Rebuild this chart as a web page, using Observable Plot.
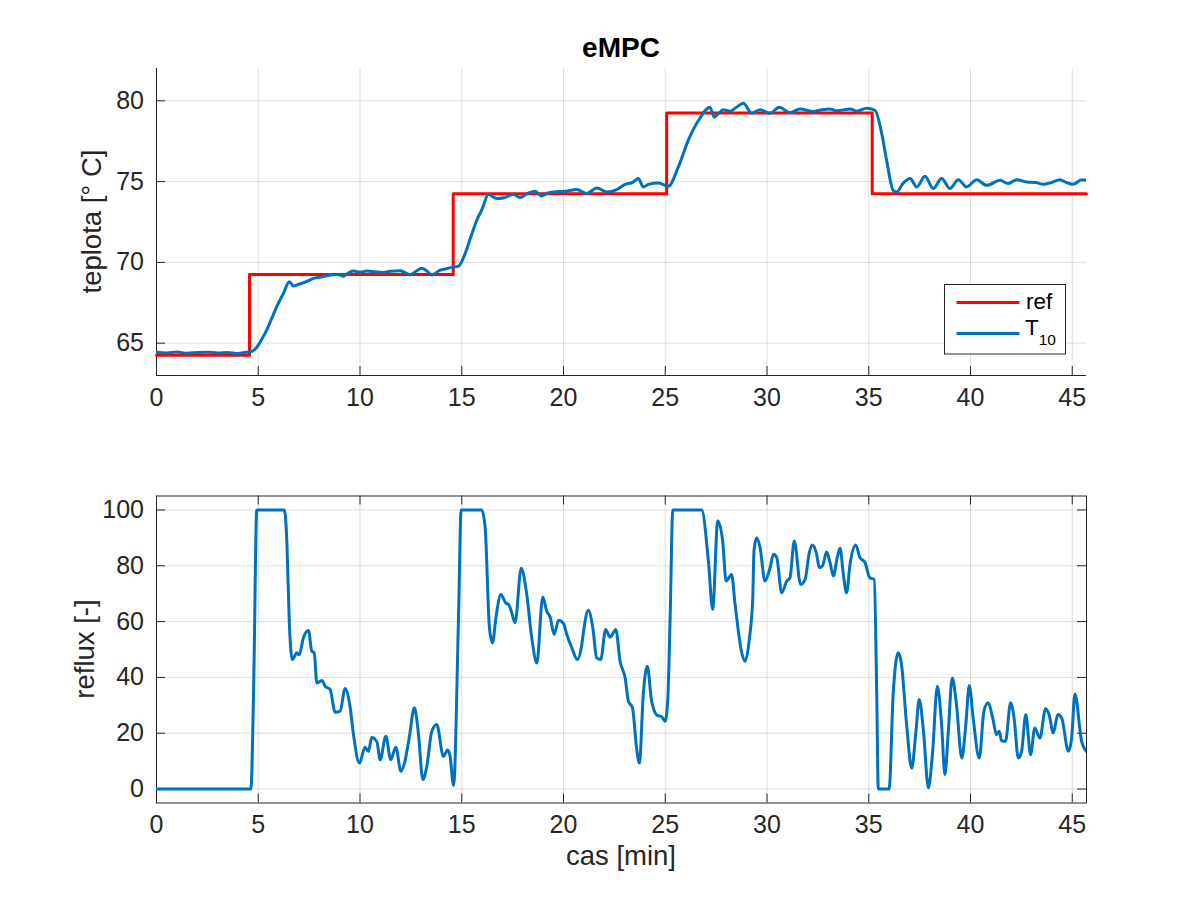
<!DOCTYPE html>
<html>
<head>
<meta charset="utf-8">
<script src="https://cdn.jsdelivr.net/npm/d3@7"></script>
<script src="https://cdn.jsdelivr.net/npm/@observablehq/plot@0.6"></script>
<style>
  body { margin: 0; background: #fff; }
  #wrap { position: relative; width: 1200px; height: 900px; background: #fff; overflow: hidden; }
  #wrap > svg, #wrap > figure { position: absolute; left: 0; margin: 0; }
  text { font-family: "Liberation Sans", Arial, Helvetica, sans-serif; }
</style>
</head>
<body>
<div id="wrap"></div>
<script>
// ---------------- data ----------------
const titleText = "eMPC";
const yLabelTop = "teplota [° C]";
const yLabelBottom = "reflux [-]";
const xLabelText = "cas [min]";
const legendLabels = ["ref", "T", "10"]; // "T" with subscript "10"

const xTicks = [0, 5, 10, 15, 20, 25, 30, 35, 40, 45];
const yTicksTop = [65, 70, 75, 80];
const yTicksBottom = [0, 20, 40, 60, 80, 100];
const xDomain = [0, 45.7];
const yDomainTop = [63, 82];
const yDomainBottom = [-5, 105];

// reference (step) series
const refTime  = [0, 4.57, 14.58, 25.07, 35.17, 45.7];
const refValue = [64.25, 69.25, 74.25, 79.25, 74.25, 74.25];

// measured temperature T10
const tTime = [0,0.5,1.0,1.5,2.0,2.5,3.0,3.5,4.0,4.4,4.7,4.93,5.2,5.42,5.65,5.91,6.24,6.53,6.73,7.0,7.22,7.5,7.71,8.1,8.53,8.9,9.19,9.45,9.68,10.0,10.34,10.7,11.15,11.5,11.97,12.2,12.46,12.75,13.04,13.3,13.53,13.94,14.2,14.51,14.84,15.17,15.45,15.74,16.0,16.31,16.72,17.1,17.3,17.54,17.87,18.2,18.6,18.93,19.2,19.5,20.1,20.65,21.14,21.64,22.13,22.62,23.03,23.4,23.68,23.92,24.17,24.66,25.15,25.64,26.13,26.63,27.2,27.4,27.6,27.85,28.18,28.5,28.84,29.25,29.66,30.15,30.6,31.13,31.62,32.28,32.7,33.1,33.4,33.75,34.1,34.41,34.9,35.31,35.64,35.88,36.2,36.37,36.7,37.03,37.36,37.76,38.17,38.58,38.99,39.4,39.81,40.3,40.79,41.45,41.86,42.27,42.76,43.2,43.57,44.0,44.39,44.7,45.05,45.46,45.7];
const tValue = [64.44,64.40,64.45,64.38,64.42,64.44,64.40,64.43,64.36,64.44,64.50,64.75,65.3,65.82,66.5,67.26,68.09,68.80,68.54,68.65,68.74,68.88,69.01,69.10,69.22,69.25,69.15,69.35,69.46,69.40,69.46,69.42,69.38,69.45,69.48,69.38,69.22,69.45,69.63,69.45,69.22,69.52,69.60,69.69,69.77,70.56,71.6,72.61,73.3,74.20,73.95,74.0,74.12,74.20,74.01,74.25,74.40,74.11,74.28,74.36,74.40,74.51,74.26,74.61,74.36,74.51,74.83,74.95,75.19,74.67,74.83,74.91,74.71,75.90,77.55,78.78,79.60,78.99,79.2,79.44,79.36,79.6,79.85,79.23,79.44,79.23,79.6,79.26,79.5,79.34,79.45,79.5,79.38,79.44,79.5,79.36,79.54,79.40,77.96,76.31,74.46,74.36,74.91,75.19,74.67,75.33,74.57,75.19,74.57,75.12,74.67,75.12,74.77,75.08,74.88,75.12,74.98,74.95,74.83,74.95,75.12,74.95,74.83,75.12,75.08];

// reflux
const rTime = [0,4.64,4.77,4.93,6.29,6.41,6.53,6.68,6.9,7.01,7.22,7.47,7.63,7.75,7.88,8.13,8.29,8.53,8.78,9.02,9.27,9.52,9.68,9.97,10.25,10.41,10.58,10.83,10.99,11.27,11.51,11.76,12.01,12.21,12.43,12.67,12.86,13.09,13.28,13.53,13.77,14.1,14.31,14.42,14.6,14.84,14.97,15.98,16.15,16.36,16.51,16.69,16.92,17.16,17.32,17.44,17.62,17.92,18.17,18.44,18.69,18.98,19.18,19.34,19.54,19.76,20.0,20.16,20.41,20.68,20.9,21.01,21.22,21.44,21.63,21.83,22.07,22.29,22.57,22.78,23.03,23.19,23.39,23.6,23.73,23.92,24.12,24.33,24.61,24.82,24.99,25.12,25.24,25.37,26.79,27.12,27.33,27.58,27.82,27.99,28.26,28.43,28.76,28.92,29.14,29.3,29.36,29.49,29.66,29.9,30.15,30.32,30.48,30.72,30.97,31.13,31.34,31.65,31.87,32.08,32.23,32.44,32.57,32.73,32.93,33.1,33.26,33.45,33.59,33.75,33.91,34.08,34.36,34.57,34.82,35.05,35.27,35.39,35.47,36.0,36.2,36.45,36.61,36.86,37.11,37.32,37.48,37.69,37.93,38.14,38.37,38.58,38.74,38.91,39.1,39.31,39.57,39.77,39.94,40.13,40.43,40.66,40.87,41.09,41.28,41.41,41.53,41.72,41.97,42.14,42.35,42.51,42.72,42.95,43.16,43.41,43.69,43.86,44.07,44.29,44.48,44.81,44.97,45.13,45.46,45.7];
const rValue = [0,0,35,100,100,87.7,59,46.4,48.8,48,54.2,56.8,49.4,48.8,38,38.9,36.8,35.7,27.5,27.9,36,29.1,19.5,9.3,15,13.5,18.5,16.9,10.5,18.9,10.5,15,6.4,10,18.9,29.1,20.7,3.4,8,20.7,23.1,11.7,14,12,1.3,61.4,100,100,93.7,57.8,52.4,62,69.7,66.7,66,63.6,59.6,79.1,71,54.2,45.2,68.8,63.6,61.7,55.4,60.5,59.3,55.4,50.6,46.4,51.8,57.8,64.1,57.8,47,46.4,57.2,54.4,57.2,45.8,39.8,31.5,29.1,14.1,9.3,33.9,44,31.5,26.4,26,24.3,31.5,61.4,100,100,81.7,64.4,96,89,74.5,76.9,66.3,48.8,45.8,54.2,68.5,85.3,90,86.5,74.5,79.3,84.1,82.9,70.3,74.5,75.7,88.9,73.3,75,84.7,87.4,84.1,79.3,80,84.9,81.1,76.3,82.9,86.3,77,70.3,80.5,87.4,82.9,81.1,75.7,75.1,35,0,0,33.9,48.8,44.6,23.1,7.5,20.7,32.1,20.7,0.4,13.5,36.8,23.1,5.2,20.7,39.8,30.3,11.1,23.1,37.1,25.5,11.1,27.9,30.9,25.5,19.5,20.7,17.3,17.1,30.9,25.5,11.1,13.5,26.7,12.3,21.9,18.3,28.8,26.7,20.1,26.7,25.5,13.5,18.3,34.1,17.1,13.5];

// ---------------- tables ----------------
const refData = refTime.map((t, i) => ({t, v: refValue[i]}));
const tData = tTime.map((t, i) => ({t, v: tValue[i]}));
const rData = rTime.map((t, i) => ({t, v: rValue[i]}));

// ---------------- style ----------------
const AX = "#262626";
const RED = "#ff0000";
const BLUE = "#0072bd";
const FONT = '"Liberation Sans", Arial, Helvetica, sans-serif';
const W = 1200, ML = 156, MR = 114;
const TICK = 9;
const plotW = W - ML - MR;

function gridAndTicks(yTicks, plotH, boxed) {
  const g = { stroke: AX, strokeOpacity: 0.15, strokeWidth: 1 };
  const marks = [
    Plot.gridX(xTicks, g),
    Plot.gridY(yTicks, g),
    Plot.tickX(xTicks, { x: d => d, insetTop: plotH - TICK, stroke: AX }),
    Plot.tickY(yTicks, { y: d => d, insetRight: plotW - TICK, stroke: AX })
  ];
  if (boxed) {
    marks.push(
      Plot.tickX(xTicks, { x: d => d, insetBottom: plotH - TICK, stroke: AX }),
      Plot.tickY(yTicks, { y: d => d, insetLeft: plotW - TICK, stroke: AX })
    );
  }
  marks.push(
    Plot.axisX(xTicks, { tickSize: 0, tickPadding: 12.5, label: null, fill: AX }),
    Plot.axisY(yTicks, { tickSize: 0, tickPadding: 12.5, label: null, fill: AX })
  );
  return marks;
}

// ---------------- top panel ----------------
const topMT = 68, topMB = 75, topH = 450;
const topPlotH = topH - topMT - topMB;
const chartTop = Plot.plot({
  width: W, height: topH,
  marginLeft: ML, marginRight: MR, marginTop: topMT, marginBottom: topMB,
  style: { fontFamily: FONT, fontSize: "25px", color: AX, background: "transparent", overflow: "visible" },
  x: { domain: xDomain },
  y: { domain: yDomainTop },
  marks: [
    ...gridAndTicks(yTicksTop, topPlotH, false),
    Plot.ruleX([xDomain[0]], { stroke: AX, strokeWidth: 1 }),
    Plot.ruleY([yDomainTop[0]], { stroke: AX, strokeWidth: 1 }),
    Plot.line(refData, { x: "t", y: "v", curve: "step-after", stroke: RED, strokeWidth: 3 }),
    Plot.line(tData, { x: "t", y: "v", curve: "monotone-x", stroke: BLUE, strokeWidth: 3, clip: true })
  ]
});
chartTop.style.top = "0px";

// ---------------- bottom panel ----------------
const botMT = 45.5, botMB = 97.5, botH = 450;
const botPlotH = botH - botMT - botMB;
const chartBottom = Plot.plot({
  width: W, height: botH,
  marginLeft: ML, marginRight: MR, marginTop: botMT, marginBottom: botMB,
  style: { fontFamily: FONT, fontSize: "25px", color: AX, background: "transparent", overflow: "visible" },
  x: { domain: xDomain },
  y: { domain: yDomainBottom },
  marks: [
    ...gridAndTicks(yTicksBottom, botPlotH, true),
    Plot.frame({ stroke: AX, strokeWidth: 1 }),
    Plot.line(rData, { x: "t", y: "v", curve: "monotone-x", stroke: BLUE, strokeWidth: 3, clip: true })
  ]
});
chartBottom.style.top = "450px";

const wrap = document.getElementById("wrap");
wrap.appendChild(chartTop);
wrap.appendChild(chartBottom);

// ---------------- overlay: title, labels, legend ----------------
const ov = d3.create("svg")
  .attr("width", W).attr("height", 900)
  .style("position", "absolute").style("left", "0px").style("top", "0px")
  .style("pointer-events", "none")
  .style("font-family", FONT);

const xc = ML + plotW / 2;
ov.append("text").attr("x", xc).attr("y", 57).attr("text-anchor", "middle")
  .attr("font-size", 28).attr("font-weight", "bold").attr("fill", "#000").text(titleText);

ov.append("text").attr("transform", `translate(101,${topMT + topPlotH / 2}) rotate(-90)`)
  .attr("text-anchor", "middle").attr("font-size", 27.5).attr("fill", AX).text(yLabelTop);

ov.append("text").attr("transform", `translate(94,${450 + botMT + botPlotH / 2}) rotate(-90)`)
  .attr("text-anchor", "middle").attr("font-size", 27.5).attr("fill", AX).text(yLabelBottom);

ov.append("text").attr("x", xc).attr("y", 865).attr("text-anchor", "middle")
  .attr("font-size", 27.5).attr("fill", AX).text(xLabelText);

// legend
const lg = ov.append("g");
lg.append("rect").attr("x", 944.5).attr("y", 284.5).attr("width", 121).attr("height", 69.5)
  .attr("fill", "#fff").attr("stroke", AX).attr("stroke-width", 1);
lg.append("line").attr("x1", 956.5).attr("x2", 1019.5).attr("y1", 302.5).attr("y2", 302.5)
  .attr("stroke", RED).attr("stroke-width", 3);
lg.append("line").attr("x1", 956.5).attr("x2", 1019.5).attr("y1", 333.5).attr("y2", 333.5)
  .attr("stroke", BLUE).attr("stroke-width", 3);
lg.append("text").attr("x", 1026).attr("y", 308.5).attr("font-size", 22.5).attr("fill", "#000").text(legendLabels[0]);
const t2 = lg.append("text").attr("x", 1025).attr("y", 335).attr("font-size", 22.5).attr("fill", "#000");
t2.append("tspan").text(legendLabels[1]);
t2.append("tspan").attr("font-size", 15.5).attr("dy", 10).text(legendLabels[2]);

wrap.appendChild(ov.node());
</script>
</body>
</html>
